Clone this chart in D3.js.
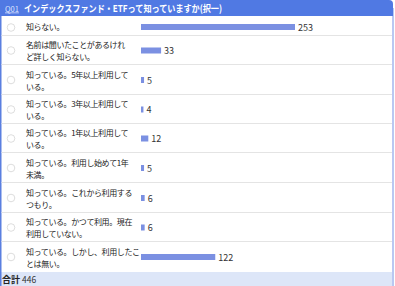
<!DOCTYPE html>
<html><head><meta charset="utf-8">
<script src="https://cdn.jsdelivr.net/npm/d3@7"></script>
<style>html,body{margin:0;padding:0;background:#fff;}svg{display:block;}</style>
</head><body>
<script>
const title = "インデックスファンド・ETFって知っていますか(択一)";
const qno = "Q01";
const categories = [
  ["知らない。"],
  ["名前は聞いたことがあるけれ", "ど詳しく知らない。"],
  ["知っている。5年以上利用して", "いる。"],
  ["知っている。3年以上利用して", "いる。"],
  ["知っている。1年以上利用して", "いる。"],
  ["知っている。利用し始めて1年", "未満。"],
  ["知っている。これから利用する", "つもり。"],
  ["知っている。かつて利用。現在", "利用していない。"],
  ["知っている。しかし、利用したこ", "とは無い。"]
];
const values = [253, 33, 5, 4, 12, 5, 6, 6, 122];
const totalLabel = "合計";
const total = 446;

const W = 395, H = 286;
const font = "'Noto Sans CJK JP', 'Noto Sans', sans-serif";
const svg = d3.select("body").append("svg").attr("width", W).attr("height", H);

const rowTops = [16, 36, 65, 95, 124, 153, 183, 213, 242];
const rowBottoms = [36, 65, 95, 124, 153, 183, 213, 242, 272];

svg.append("rect").attr("x", 0).attr("y", 0).attr("width", 394).attr("height", H).attr("fill", "#fff");
svg.append("rect").attr("x", 0).attr("y", 272).attr("width", 393).attr("height", 14).attr("fill", "#dde6f8");
svg.append("rect").attr("x", 0).attr("y", 0).attr("width", 1.5).attr("height", H).attr("fill", "#5a7fe0");
svg.append("rect").attr("x", 392).attr("y", 8).attr("width", 2).attr("height", H).attr("fill", "#b9c8f2");
svg.append("path").attr("d", "M0,0 H389 Q393,0 393,4 V16 H0 Z").attr("fill", "#5079e3");
svg.append("text").attr("x", 5).attr("y", 11.5).attr("font-family", font).attr("font-size", 7.5)
  .attr("fill", "#dfe6ff").attr("text-decoration", "underline").text(qno);
svg.append("text").attr("x", 24).attr("y", 12).attr("font-family", font).attr("font-size", 9.5)
  .attr("font-weight", "bold").attr("fill", "#fff").text(title)
  .attr("textLength", 198).attr("lengthAdjust", "spacingAndGlyphs");

const x = d3.scaleLinear().domain([0, 253]).range([0, 154]);

const rows = svg.selectAll("g.row").data(values).join("g").attr("class", "row");
rows.append("line")
  .attr("x1", 1.5).attr("x2", 392)
  .attr("y1", (d, i) => rowBottoms[i] - 0.5).attr("y2", (d, i) => rowBottoms[i] - 0.5)
  .attr("stroke", "#e4e4e4").attr("stroke-width", 1)
  .attr("display", (d, i) => i === values.length - 1 ? "none" : null);
rows.each(function(d, i) {
  const g = d3.select(this);
  const lines = categories[i];
  const mid = (rowTops[i] + rowBottoms[i]) / 2;
  g.append("circle").attr("cx", 11).attr("cy", lines.length === 1 ? mid + 1.5 : mid)
    .attr("r", 3.8).attr("fill", "#fff").attr("stroke", "#d4d4d4").attr("stroke-width", 0.8);
  const base = lines.length === 1 ? mid + 4 : mid - 2.5;
  lines.forEach((ln, k) => {
    g.append("text").attr("x", 26).attr("y", base + k * 12)
      .attr("font-family", font).attr("font-size", 8).attr("letter-spacing", -0.4)
      .attr("fill", "#222").text(ln);
  });
  const by = lines.length === 1 ? mid - 2 : mid - 3;
  g.append("rect").attr("x", 141).attr("y", by).attr("width", x(d)).attr("height", 6).attr("fill", "#7b90e2");
  g.append("text").attr("x", 141 + x(d) + 3).attr("y", by + 6.5).attr("font-family", font)
    .attr("font-size", 9).attr("fill", "#333").text(d);
});

svg.append("text").attr("x", 2).attr("y", 283).attr("font-family", font).attr("font-size", 9)
  .attr("font-weight", "bold").attr("fill", "#222").text(totalLabel);
svg.append("text").attr("x", 22).attr("y", 283).attr("font-family", font).attr("font-size", 8.5)
  .attr("fill", "#333").text(total);
</script>
</body></html>
